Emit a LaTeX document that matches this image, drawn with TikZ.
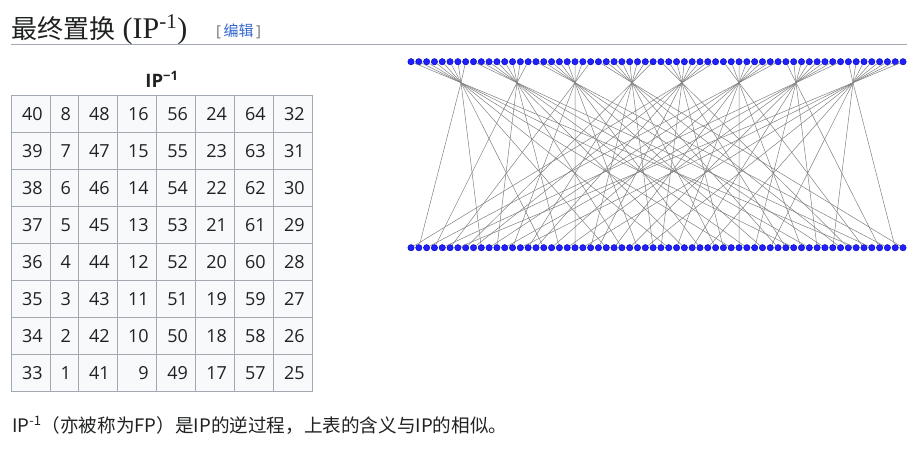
\documentclass[tikz,border=0pt]{standalone}
\usepackage{fontspec}
\setmainfont{Liberation Serif}
\setsansfont{Open Sans}
\newfontfamily\cjk{Noto Sans CJK SC}
\definecolor{ink}{HTML}{202122}
\definecolor{cellbg}{HTML}{F8F9FA}
\definecolor{cellline}{HTML}{A2A9B1}
\definecolor{linkblue}{HTML}{3366CC}
\definecolor{bracketgray}{HTML}{72777D}
\definecolor{wiregray}{HTML}{808080}
\definecolor{bitblue}{HTML}{2020FF}
\definecolor{bitedge}{HTML}{0000B0}
\begin{document}
\begin{tikzpicture}[x=1pt,y=-1pt,
  wire/.style={draw=wiregray,line width=0.5pt},
  bit/.style={circle,fill=bitblue,draw=bitedge,line width=0.4pt,minimum size=6.4pt,inner sep=0pt},
  cell/.style={fill=cellbg,draw=cellline,line width=1pt},
  num/.style={anchor=east,inner sep=0pt,text=ink,font=\sffamily\fontsize{18}{20}\selectfont}]
  \useasboundingbox (0,0) rectangle (924,459);

  % 标题
  \node[anchor=base west,inner sep=0pt,text=ink] (title) at (11,38)
    {{\cjk\fontsize{26}{30}\selectfont 最终置换}\fontsize{30}{34}\selectfont{} (IP\textsuperscript{-1})};
  \node[anchor=base west,inner sep=0pt,font=\sffamily\fontsize{15}{18}\selectfont] (edit) at (216,36)
    {\textcolor{bracketgray}{[}\,{\cjk\textcolor{linkblue}{编辑}}\,\textcolor{bracketgray}{]}};
  \draw[cellline,line width=1pt] (11,44.3) -- (907,44.3);

  % 表格
  \node[anchor=base,inner sep=0pt,text=ink,font=\sffamily\bfseries\fontsize{18.5}{20}\selectfont] (caption) at (162,87)
    {IP\textsuperscript{−1}};
  \foreach \c/\base/\xa/\xb in {0/40/11.5/50.3,1/8/50.3/78.7,2/48/78.7/117.3,3/16/117.3/156.3,
                                4/56/156.3/195.7,5/24/195.7/234.7,6/64/234.7/273.3,7/32/273.3/312.3}{
    \foreach \r in {0,...,7}{
      \pgfmathtruncatemacro\val{\base-\r}
      \draw[cell] (\xa,95.7+37*\r) rectangle (\xb,132.7+37*\r);
      \node[num] (cell-\r-\c) at (\xb-7.5,114.2+37*\r) {\val};
    }
  }

  % 置换图
  \foreach \i in {0,...,63}{
    \node[bit] (top-\i) at (411+7.81*\i,61.7) {};
    \node[bit] (bot-\i) at (411+7.81*\i,247.7) {};
  }
  \foreach \h/\hx in {0/461,1/517,2/575,3/632,4/682,5/739,6/796,7/853}
    \coordinate (hub-\h) at (\hx,82.7);
  \foreach \i in {0,...,63}{
    \pgfmathtruncatemacro\h{\i/8}
    \draw[wire] (top-\i) -- (hub-\h);
  }
  \foreach \c/\base in {0/40,1/8,2/48,3/16,4/56,5/24,6/64,7/32}{
    \foreach \r in {0,...,7}{
      \pgfmathtruncatemacro\p{8*\r+\c}
      \pgfmathtruncatemacro\h{(\base-\r-1)/8}
      \draw[wire] (hub-\h) -- (bot-\p);
    }
  }

  % 说明
  \node[anchor=base west,inner sep=0pt,text=ink,font=\cjk\fontsize{18.6}{20}\selectfont] (note) at (12,432)
    {IP\textsuperscript{-1}（亦被称为FP）是IP的逆过程，上表的含义与IP的相似。};
\end{tikzpicture}
\end{document}
